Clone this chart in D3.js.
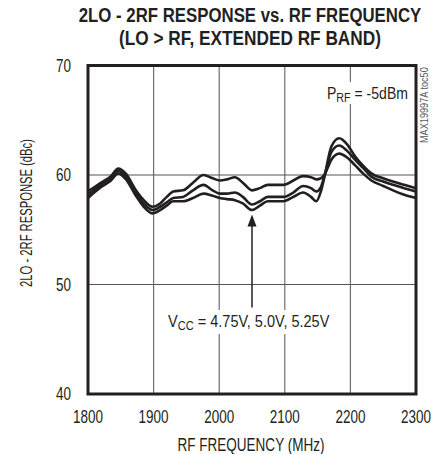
<!DOCTYPE html>
<html><head><meta charset="utf-8">
<script src="https://cdn.jsdelivr.net/npm/d3@7"></script>
<style>
body{margin:0;background:#fff;}
svg{display:block;}
text{font-family:"Liberation Sans Narrow","Arial Narrow","Liberation Sans",Arial,sans-serif;}
</style></head>
<body><svg id="c" width="443" height="454"></svg>
<script>
const freq = [1800,1820,1835,1846,1858,1872,1885,1898,1910,1920,1930,1945,1960,1976,1990,2001,2012,2024,2036,2050,2062,2074,2086,2098,2113,2128,2140,2148,2155,2161,2171,2183,2195,2207,2220,2232,2250,2265,2282,2300];
const vccA = [58.5,59.3,59.9,60.6,60.1,58.7,57.7,57.1,57.4,58.0,58.5,58.6,59.3,60.0,59.7,59.5,59.6,59.8,59.3,58.6,58.8,59.1,59.1,59.1,59.5,59.9,59.8,59.6,59.7,60.1,61.4,61.95,61.6,60.9,60.1,59.5,59.0,58.6,58.2,57.9];
const vccB = [58.2,59.1,59.7,60.4,59.8,58.4,57.4,56.8,57.1,57.5,57.9,58.0,58.6,59.1,58.6,58.3,58.3,58.4,58.0,57.3,57.6,58.0,58.0,58.0,58.4,59.0,58.8,58.5,58.9,60.0,62.1,62.7,62.2,61.4,60.6,59.85,59.4,59.1,58.8,58.5];
const vccC = [57.9,58.9,59.5,60.15,59.6,58.2,57.1,56.5,56.8,57.2,57.6,57.6,57.9,58.3,58.1,57.9,57.8,57.7,57.4,56.8,57.2,57.6,57.6,57.6,58.0,58.4,58.0,57.6,58.5,60.0,62.6,63.35,62.8,61.7,60.8,60.15,59.7,59.4,59.1,58.8];
const xTicks = [1800,1900,2000,2100,2200,2300];
const yTicks = [40,50,60,70];
const titleLines = ["2LO - 2RF RESPONSE vs. RF FREQUENCY","(LO > RF, EXTENDED RF BAND)"];
const xLabel = "RF FREQUENCY (MHz)";
const yLabel = "2LO - 2RF RESPONSE (dBc)";
const arrowFreq = 2050, arrowTip = 56.4, arrowTail = 47.9;

const svg = d3.select("#c");
const L=88,R=416,T=65.5,B=394;
const x = d3.scaleLinear().domain([1800,2300]).range([L,R]);
const y = d3.scaleLinear().domain([40,70]).range([B,T]);

function squeeze(node, target, ax){
  const w = node.getBBox().width;
  const k = target / w;
  const prev = node.getAttribute("transform") || "";
  node.setAttribute("transform", `${prev} translate(${ax},0) scale(${k},1) translate(${-ax},0)`);
}

// title
const titleW = [343, 262];
svg.append("g").selectAll("text").data(titleLines).join("text")
  .attr("x",250).attr("y",(d,i)=>22.5+i*22.5).attr("text-anchor","middle")
  .attr("font-weight","bold").attr("font-size",20.5).attr("fill","#231f20").text(d=>d)
  .each(function(d,i){ squeeze(this, titleW[i], 250); });

// grid
const g = svg.append("g");
g.selectAll("line.vx").data(xTicks.slice(1,-1)).join("line")
  .attr("x1",d=>x(d)).attr("x2",d=>x(d)).attr("y1",T).attr("y2",B)
  .attr("stroke","#6d6e71").attr("stroke-width",1.2);
g.selectAll("line.hy").data(yTicks.slice(1,-1)).join("line")
  .attr("x1",L).attr("x2",R).attr("y1",d=>y(d)).attr("y2",d=>y(d))
  .attr("stroke","#555").attr("stroke-width",1.2);

// labels with white backgrounds
const prf = svg.append("g");
prf.append("rect").attr("x",325).attr("y",82).attr("width",86).attr("height",22).attr("fill","#fff");
const pt = prf.append("text").attr("x",327).attr("y",99).attr("font-size",17).attr("fill","#231f20");
pt.append("tspan").text("P");
pt.append("tspan").attr("font-size",13).attr("dy",3).text("RF");
pt.append("tspan").attr("dy",-3).text(" = -5dBm");
squeeze(pt.node(), 81, 327);

const vl = svg.append("g");
vl.append("rect").attr("x",166).attr("y",310).attr("width",166).attr("height",24).attr("fill","#fff");
const vt = vl.append("text").attr("x",168).attr("y",327).attr("font-size",17).attr("fill","#231f20");
vt.append("tspan").text("V");
vt.append("tspan").attr("font-size",13).attr("dy",3).text("CC");
vt.append("tspan").attr("dy",-3).text(" = 4.75V, 5.0V, 5.25V");
squeeze(vt.node(), 162, 168);

// curves
const line = d3.line().x((d,i)=>x(freq[i])).y(d=>y(d)).curve(d3.curveMonotoneX);
svg.append("g").selectAll("path").data([vccA,vccB,vccC]).join("path")
  .attr("d",line).attr("fill","none").attr("stroke","#231f20").attr("stroke-width",2.6);

// arrow
const ax = x(arrowFreq);
svg.append("line").attr("x1",ax).attr("x2",ax).attr("y1",y(arrowTip)+8).attr("y2",y(arrowTail))
  .attr("stroke","#231f20").attr("stroke-width",1.5);
svg.append("path").attr("d",`M${ax},${y(arrowTip)} L${ax-4.5},${y(arrowTip)+12} L${ax+4.5},${y(arrowTip)+12} Z`).attr("fill","#231f20");

// frame
svg.append("rect").attr("x",L).attr("y",T).attr("width",R-L).attr("height",B-T)
  .attr("fill","none").attr("stroke","#231f20").attr("stroke-width",3);

// tick labels
svg.append("g").selectAll("text").data(xTicks).join("text")
  .attr("x",d=>x(d)).attr("y",423).attr("text-anchor","middle").attr("font-size",18).attr("fill","#231f20").text(d=>d)
  .each(function(d){ squeeze(this, 30, x(d)); });
svg.append("g").selectAll("text").data(yTicks).join("text")
  .attr("x",71).attr("y",d=>y(d)+6.5).attr("text-anchor","end").attr("font-size",18).attr("fill","#231f20").text(d=>d)
  .each(function(){ squeeze(this, 15, 71); });

const xl = svg.append("text").attr("x",251).attr("y",451).attr("text-anchor","middle").attr("font-size",17.5).attr("fill","#231f20").text(xLabel);
squeeze(xl.node(), 147, 251);

const yg = svg.append("g").attr("transform","translate(32,213) rotate(-90)");
const yl = yg.append("text").attr("x",0).attr("y",0).attr("text-anchor","middle").attr("font-size",17).attr("fill","#231f20").text(yLabel);
squeeze(yl.node(), 148, 0);

const sg = svg.append("g").attr("transform","translate(428,143) rotate(-90)");
const st = sg.append("text").attr("x",0).attr("y",0).attr("text-anchor","start").attr("font-size",10.5).attr("fill","#58595b").text("MAX19997A toc50");
squeeze(st.node(), 76, 0);
</script></body></html>
